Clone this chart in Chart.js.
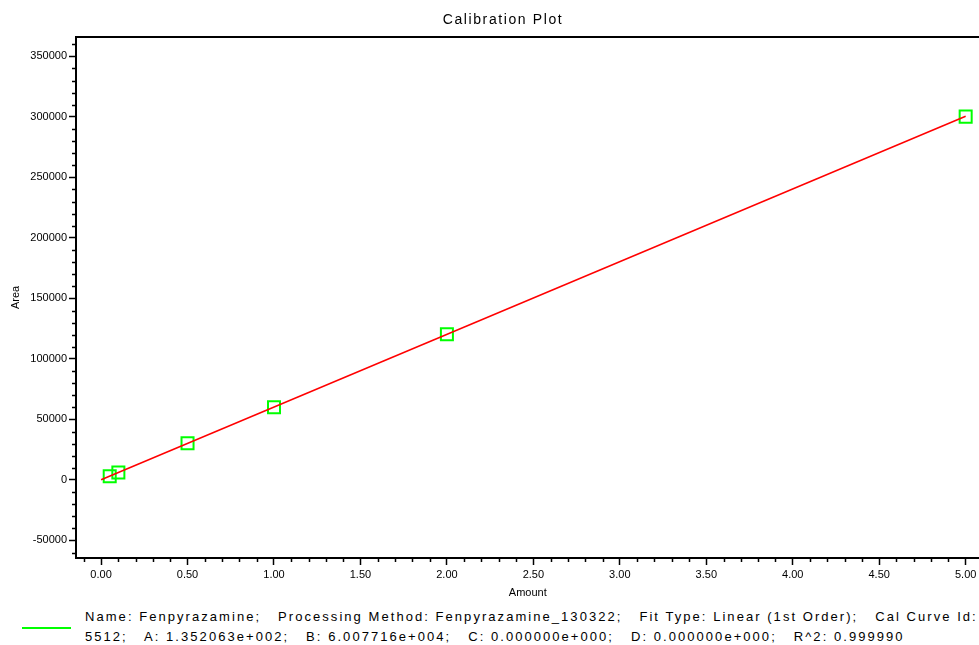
<!DOCTYPE html>
<html>
<head>
<meta charset="utf-8">
<script src="https://cdn.jsdelivr.net/npm/chart.js@4"></script>
<style>
  body { margin: 0; background: #fff; }
  #wrap { position: relative; width: 979px; height: 645px; overflow: hidden; font-family: "Liberation Sans", Arial, sans-serif; }
  #plot { position: absolute; left: 0; top: 0; }
  #title { position: absolute; top: 11px; left: 403px; width: 200px; text-align: center; font-size: 14px; letter-spacing: 1.6px; color: #000; }
  #legend { position: absolute; left: 0; top: 607px; width: 979px; font-size: 13px; color: #000; }
  #legend .swatch { position: absolute; left: 22px; top: 20px; width: 49px; height: 2px; background: #00ff00; }
  #legend .txt { position: absolute; left: 85px; top: 0; white-space: pre; line-height: 20px; letter-spacing: 2.05px; }
</style>
</head>
<body>
<div id="wrap">
  <canvas id="plot" width="990" height="600"></canvas>
  <div id="title">Calibration Plot</div>
  <div id="legend">
    <div class="swatch"></div>
    <div class="txt">Name: Fenpyrazamine;   Processing Method: Fenpyrazamine_130322;   Fit Type: Linear (1st Order);   Cal Curve Id:
5512;   A: 1.352063e+002;   B: 6.007716e+004;   C: 0.000000e+000;   D: 0.000000e+000;   R^2: 0.999990</div>
  </div>
</div>
<script>
// calibration standards
const amount = [0.05, 0.1, 0.5, 1.0, 2.0, 5.0];
const area = [3000, 6100, 30300, 60100, 120400, 300200];

// fitted line end points
const fitX = [0, 5];
const fitY = [135, 300521];

const xTicks = [0, 0.5, 1, 1.5, 2, 2.5, 3, 3.5, 4, 4.5, 5];
const yTicks = [-50000, 0, 50000, 100000, 150000, 200000, 250000, 300000, 350000];

// short minor ticks + top frame line
const frame = {
  id: "frame",
  afterDraw(chart) {
    const ctx = chart.ctx;
    const a = chart.chartArea;
    const xs = chart.scales.x, ys = chart.scales.y;
    ctx.save();
    ctx.strokeStyle = "#000";
    ctx.lineWidth = 2;
    ctx.beginPath();
    ctx.moveTo(a.left - 1, a.top);
    ctx.lineTo(a.right, a.top);
    ctx.stroke();
    ctx.lineWidth = 1.5;
    ctx.beginPath();
    for (let v = -60000; v <= 360000; v += 10000) {
      if (v % 50000 === 0) continue;
      const py = Math.round(ys.getPixelForValue(v)) + 0.5;
      ctx.moveTo(a.left, py);
      ctx.lineTo(a.left - 4, py);
    }
    for (let i = -1; i <= 50; i++) {
      if (i % 5 === 0) continue;
      const px = Math.round(xs.getPixelForValue(i / 10)) + 0.5;
      ctx.moveTo(px, a.bottom);
      ctx.lineTo(px, a.bottom + 4);
    }
    ctx.stroke();
    ctx.restore();
  }
};

const tickFont = { family: "'Liberation Sans', Arial, sans-serif", size: 11 };
const titleFont = { family: "'Liberation Sans', Arial, sans-serif", size: 11 };

new Chart(document.getElementById("plot"), {
  type: "scatter",
  data: {
    datasets: [
      {
        label: "Fit",
        type: "line",
        data: fitX.map((x, i) => ({ x: x, y: fitY[i] })),
        borderColor: "#ff0000",
        borderWidth: 1.5,
        pointRadius: 0,
        fill: false
      },
      {
        label: "Standards",
        data: amount.map((x, i) => ({ x: x, y: area[i] })),
        pointStyle: "rect",
        pointRadius: 8.5,
        pointBorderWidth: 2,
        pointBorderColor: "#00ff00",
        pointBackgroundColor: "rgba(0,0,0,0)"
      }
    ]
  },
  options: {
    responsive: false,
    animation: false,
    layout: { padding: { top: 37, left: 0, right: 0, bottom: 0 } },
    plugins: {
      legend: { display: false },
      title: { display: false },
      tooltip: { enabled: false }
    },
    scales: {
      x: {
        type: "linear",
        min: -0.145,
        max: 5.08,
        afterBuildTicks: s => { s.ticks = xTicks.map(v => ({ value: v })); },
        afterFit: s => { s.height = 42; },
        grid: { drawOnChartArea: false, tickLength: 7, tickColor: "#000", tickWidth: 1.5 },
        border: { color: "#000", width: 2 },
        ticks: { color: "#000", font: tickFont, padding: 3, maxRotation: 0, callback: v => v.toFixed(2) },
        title: { display: true, text: "Amount", color: "#000", font: titleFont, padding: { top: 0, bottom: 0 } }
      },
      y: {
        min: -64500,
        max: 366000,
        afterBuildTicks: s => { s.ticks = yTicks.map(v => ({ value: v })); },
        afterFit: s => { s.width = 76; },
        grid: { drawOnChartArea: false, tickLength: 7, tickColor: "#000", tickWidth: 1.5 },
        border: { color: "#000", width: 2 },
        ticks: { color: "#000", font: tickFont, padding: 2, callback: v => String(v) },
        title: { display: true, text: "Area", color: "#000", font: titleFont, padding: { top: 9, bottom: 0 } }
      }
    }
  },
  plugins: [frame]
});
</script>
</body>
</html>
